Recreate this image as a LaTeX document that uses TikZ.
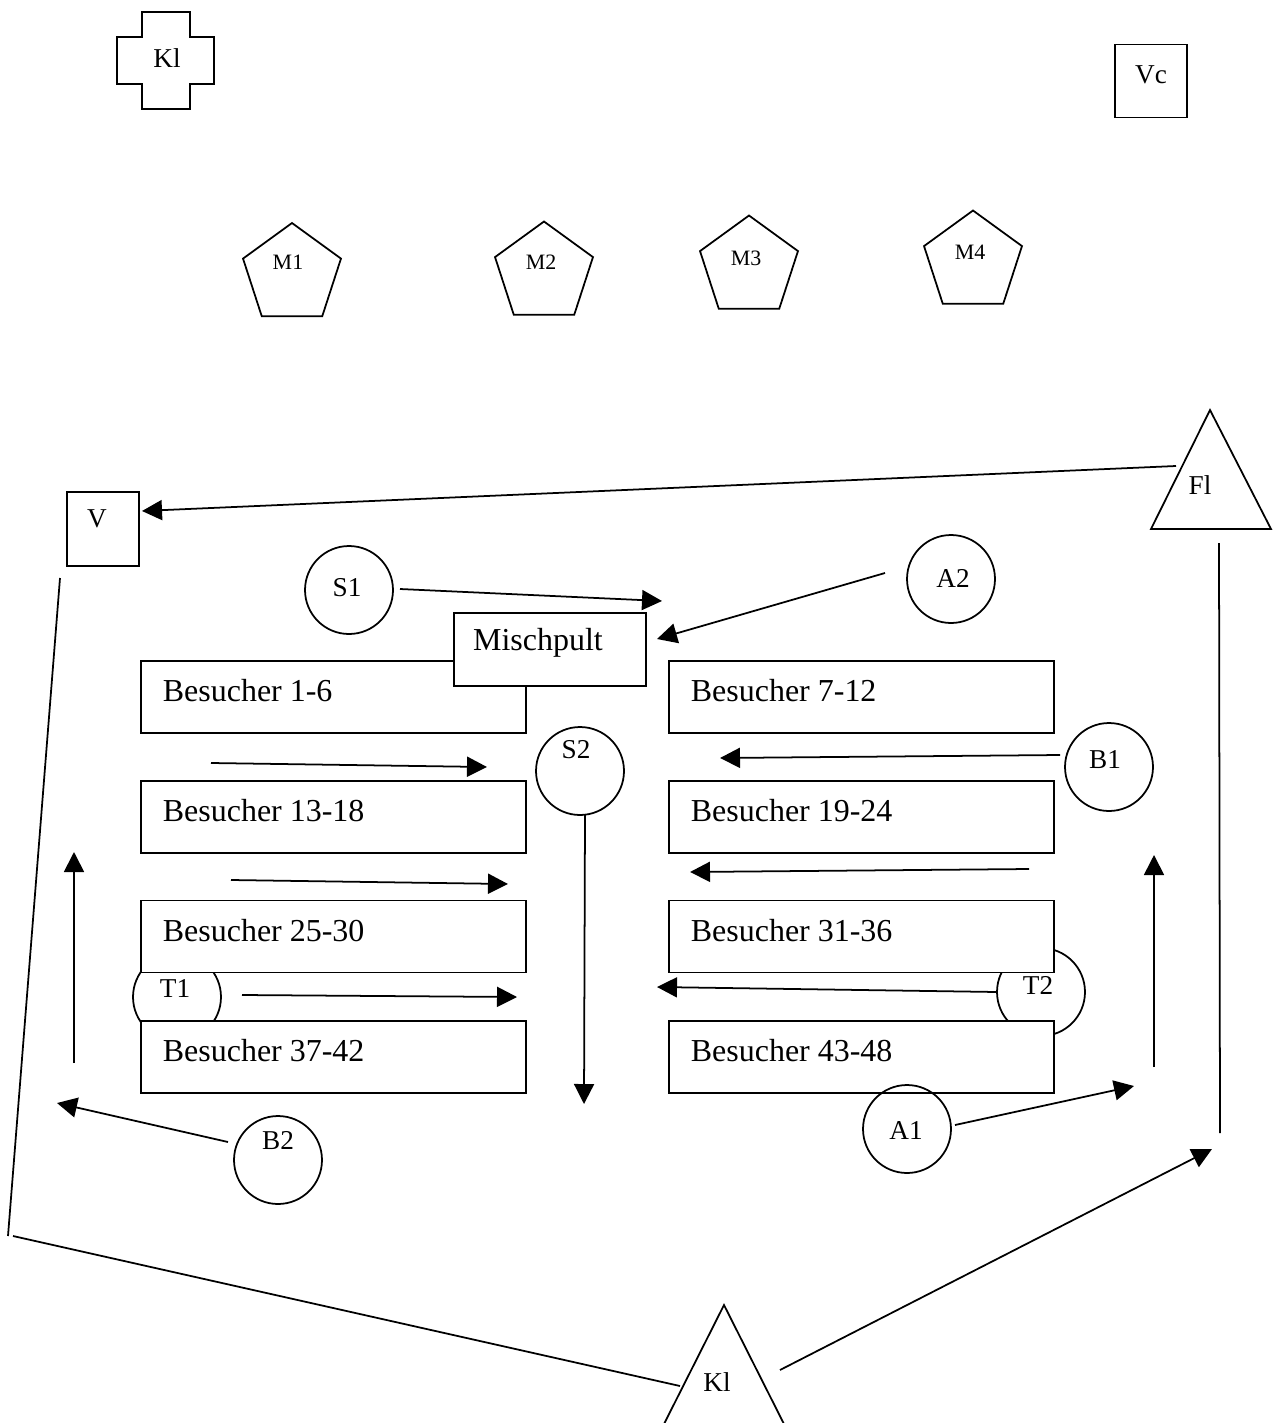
\documentclass[tikz,border=0pt]{standalone}
\usepackage{fontspec}
\setmainfont{Liberation Serif}
\usetikzlibrary{arrows.meta,shapes.geometric}
\begin{document}
\begin{tikzpicture}[x=0.02cm,y=-0.02cm,line width=1pt,
  seat/.style={draw,fill=white,rectangle,minimum width=7.7cm,minimum height=1.44cm,inner sep=0pt},
  sq/.style={draw,fill=white,rectangle,minimum width=1.44cm,minimum height=1.46cm,inner sep=0pt},
  circ/.style={draw,circle,minimum size=1.76cm,inner sep=0pt},
  penta/.style={draw,regular polygon,regular polygon sides=5,minimum size=2.06cm,inner sep=0pt},
  big/.style={inner sep=0pt,font=\fontsize{18.2}{21}\selectfont},
  mid/.style={inner sep=0pt,font=\fontsize{15.5}{18}\selectfont},
  small/.style={inner sep=0pt,font=\fontsize{12.5}{14}\selectfont},
  arr/.style={-{Triangle[length=0.4cm,width=0.4cm]}}]
\useasboundingbox (0,0) rectangle (1273,1423);

% cross Kl
\draw (142,12) -- (190,12) -- (190,37) -- (214,37) -- (214,84) -- (190,84) -- (190,109)
  -- (142,109) -- (142,84) -- (117,84) -- (117,37) -- (142,37) -- cycle;
\node[mid] (klcross) at (167,58) {Kl};

% Vc
\node[sq] (vcbox) at (1151,81) {};
\node[mid] (vclab) at (1151,75) {Vc};

% pentagons
\node[penta] (m1) at (292,274.5) {};
\node[small] (m1lab) at (288,262) {M1};
\node[penta] (m2) at (544,273) {};
\node[small] (m2lab) at (541,262) {M2};
\node[penta] (m3) at (749,267) {};
\node[small] (m3lab) at (746,258) {M3};
\node[penta] (m4) at (973,262) {};
\node[small] (m4lab) at (970,252) {M4};

% Fl triangle
\draw (1210,410) -- (1151,529) -- (1271,529) -- cycle;
\node[mid] (fllab) at (1200,485) {Fl};
% Kl triangle (bottom)
\draw (724,1305) -- (663,1426) -- (785,1426) -- cycle;
\node[mid] (kllab) at (717,1382) {Kl};

% V box
\node[sq,minimum height=1.48cm] (vbox) at (103,529) {};
\node[mid] (vlab) at (97,519) {V};

% circles T1, T2 (beneath the seat boxes)
\node[circ] (t1) at (177,997) {};
\node[circ] (t2) at (1041,992) {};

% seat boxes
\node[seat] (b1) at (333.5,697) {};
\node[seat] (b2) at (861.5,697) {};
\node[seat] (b3) at (333.5,817) {};
\node[seat] (b4) at (861.5,817) {};
\node[seat] (b5) at (333.5,936.5) {};
\node[seat] (b6) at (861.5,936.5) {};
\node[seat] (b7) at (333.5,1057) {};
\node[seat] (b8) at (861.5,1057) {};
\node[big,anchor=west] (l1) at (162,691) {Besucher 1-6};
\node[big,anchor=west] (l2) at (690,691) {Besucher 7-12};
\node[big,anchor=west] (l3) at (162,811) {Besucher 13-18};
\node[big,anchor=west] (l4) at (690,811) {Besucher 19-24};
\node[big,anchor=west] (l5) at (162,931) {Besucher 25-30};
\node[big,anchor=west] (l6) at (690,931) {Besucher 31-36};
\node[big,anchor=west] (l7) at (162,1051) {Besucher 37-42};
\node[big,anchor=west] (l8) at (690,1051) {Besucher 43-48};

\node[mid] (t1lab) at (175,988) {T1};
\node[mid] (t2lab) at (1038,985) {T2};

% Mischpult
\node[draw,fill=white,rectangle,minimum width=3.84cm,minimum height=1.46cm,inner sep=0pt] (misch) at (550,649.5) {};
\node[big] (mischlab) at (538,643) {Mischpult};

% other circles
\node[circ] (s1) at (349,590) {};
\node[mid] (s1lab) at (347,588) {S1};
\node[circ] (a2) at (951,579) {};
\node[mid] (a2lab) at (953,578) {A2};
\node[circ] (s2) at (580,771) {};
\node[mid] (s2lab) at (576,750) {S2};
\node[circ] (bb1) at (1109,767) {};
\node[mid] (bb1lab) at (1105,760) {B1};
\node[circ] (bb2) at (278,1160) {};
\node[mid] (bb2lab) at (278,1141) {B2};
\node[circ] (aa1) at (907,1129) {};
\node[mid] (aa1lab) at (906,1130) {A1};

% coordinates for connectors
\coordinate (flv1) at (1176,466);  \coordinate (flv2) at (142,511);
\coordinate (vk1) at (60,578);     \coordinate (vk2) at (8,1236);
\coordinate (vk3) at (13,1236);    \coordinate (vk4) at (680,1386);
\coordinate (kf1) at (780,1370);   \coordinate (kf2) at (1212,1149);
\coordinate (kf3) at (1220,1133);  \coordinate (kf4) at (1219,543);
\coordinate (s1a) at (400,589);    \coordinate (s1b) at (662,601);
\coordinate (a2a) at (885,573);    \coordinate (a2b) at (657,639);
\coordinate (r1a) at (211,763);    \coordinate (r1b) at (487,767);
\coordinate (r2a) at (231,880);    \coordinate (r2b) at (508,884);
\coordinate (r3a) at (242,995);    \coordinate (r3b) at (517,997);
\coordinate (s2a) at (585,815);    \coordinate (s2b) at (584,1104);
\coordinate (q1a) at (1060,755);   \coordinate (q1b) at (720,758);
\coordinate (q2a) at (1029,869);   \coordinate (q2b) at (690,872);
\coordinate (q3a) at (997,992);    \coordinate (q3b) at (657,987);
\coordinate (lva) at (74,1063);    \coordinate (lvb) at (74,852);
\coordinate (rva) at (1154,1067);  \coordinate (rvb) at (1154,855);
\coordinate (b2a) at (228,1142);   \coordinate (b2b) at (57,1103);
\coordinate (a1a) at (955,1125);   \coordinate (a1b) at (1134,1086);

\draw[arr] (flv1) -- (flv2);
\draw (vk1) -- (vk2);
\draw (vk3) -- (vk4);
\draw[arr] (kf1) -- (kf2);
\draw (kf3) -- (kf4);
\draw[arr] (s1a) -- (s1b);
\draw[arr] (a2a) -- (a2b);
\draw[arr] (r1a) -- (r1b);
\draw[arr] (r2a) -- (r2b);
\draw[arr] (r3a) -- (r3b);
\draw[arr] (s2a) -- (s2b);
\draw[arr] (q1a) -- (q1b);
\draw[arr] (q2a) -- (q2b);
\draw[arr] (q3a) -- (q3b);
\draw[arr] (lva) -- (lvb);
\draw[arr] (rva) -- (rvb);
\draw[arr] (b2a) -- (b2b);
\draw[arr] (a1a) -- (a1b);
\end{tikzpicture}
\end{document}
